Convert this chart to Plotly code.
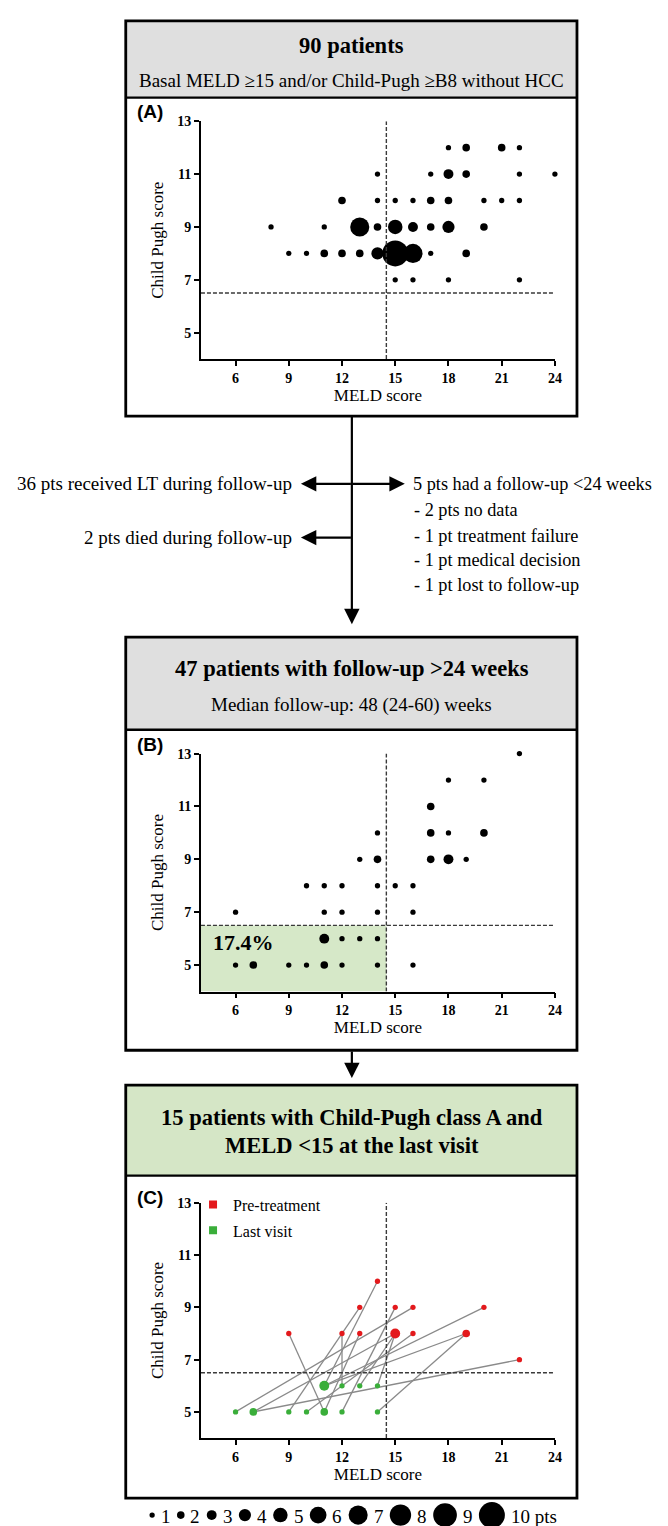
import plotly.graph_objects as go
from collections import Counter

W, H = 668, 1526

# ---------------- data ----------------
# Panel A: baseline (90 patients) -> MELD, Child-Pugh, number of patients
a_meld = [18, 19, 21, 22,
          14, 17, 18, 19, 22, 24,
          12, 14, 15, 16, 17, 18, 20, 21, 22,
          8, 11, 13, 14, 15, 16, 17, 18, 20,
          9, 10, 11, 12, 13, 14, 15, 16, 17, 19,
          15, 16, 18, 22]
a_cp = [12] * 4 + [11] * 6 + [10] * 9 + [9] * 9 + [8] * 10 + [7] * 4
a_n = [1, 2, 2, 1,
       1, 1, 3, 2, 1, 1,
       2, 1, 1, 1, 2, 2, 1, 1, 1,
       1, 1, 7, 2, 5, 3, 2, 4, 2,
       1, 1, 2, 2, 2, 4, 10, 7, 1, 2,
       1, 1, 1, 1]

# Panel B: last visit of 47 patients with follow-up >24 weeks
b_meld = [22,
          18, 20,
          17,
          14, 17, 18, 20,
          13, 14, 17, 18, 19,
          10, 11, 12, 14, 15, 16,
          6, 11, 12, 14, 16,
          11, 12, 13, 14,
          6, 7, 9, 10, 11, 12, 14, 16]
b_cp = [13] + [12] * 2 + [11] + [10] * 4 + [9] * 5 + [8] * 6 + [7] * 5 + [6] * 4 + [5] * 8
b_n = [1,
       1, 1,
       2,
       1, 2, 1, 2,
       1, 2, 2, 3, 1,
       1, 1, 1, 1, 1, 1,
       1, 1, 1, 1, 1,
       3, 1, 1, 1,
       1, 2, 1, 1, 2, 1, 1, 1]

# Panel C: 15 patients, pre-treatment -> last visit
pre_meld = [9, 16, 15, 22, 19, 19, 20, 14, 12, 13, 13, 15, 16, 15, 15]
pre_cp = [8, 9, 8, 7, 8, 8, 9, 10, 8, 9, 8, 9, 8, 8, 8]
last_meld = [11, 6, 7, 7, 14, 11, 11, 11, 12, 9, 11, 12, 10, 13, 14]
last_cp = [5, 5, 5, 5, 5, 6, 6, 6, 6, 5, 5, 5, 5, 6, 6]

x_ticks = [6, 9, 12, 15, 18, 21, 24]
y_ticks = [5, 7, 9, 11, 13]
size_legend = list(range(1, 11))

# ---------------- helpers ----------------
SERIF = "Liberation Serif"
SANS = "Liberation Sans"


def px(x):
    return x / W


def py(y):
    return 1 - y / H


def dsize(n):
    return 3 + 2.3 * n


X0, X1 = 195, 552.7
panels = {
    "A": (106.7, 345.7),
    "B": (742.0, 981.0),
    "C": (1193.3, 1429.6),
}
XR = [4.05, 24]
YR = [4, 13]
RED = "#e3191c"
GREEN = "#3aae3a"

fig = go.Figure()

# Panel A
fig.add_trace(go.Scatter(x=a_meld, y=a_cp, mode="markers", xaxis="x", yaxis="y",
                         marker=dict(color="black", opacity=1, size=[dsize(n) for n in a_n], line=dict(width=0)),
                         cliponaxis=False, showlegend=False, hoverinfo="skip"))
# Panel B
fig.add_trace(go.Scatter(x=b_meld, y=b_cp, mode="markers", xaxis="x2", yaxis="y2",
                         marker=dict(color="black", opacity=1, size=[dsize(n) for n in b_n], line=dict(width=0)),
                         cliponaxis=False, showlegend=False, hoverinfo="skip"))

# Panel C lines
lx, ly = [], []
for a, b, c, d in zip(pre_meld, pre_cp, last_meld, last_cp):
    lx += [a, c, None]
    ly += [b, d, None]
fig.add_trace(go.Scatter(x=lx, y=ly, mode="lines", xaxis="x3", yaxis="y3",
                         line=dict(color="#8a8a8a", width=1.3), showlegend=False, hoverinfo="skip"))
pre_cnt = Counter(zip(pre_meld, pre_cp))
last_cnt = Counter(zip(last_meld, last_cp))
fig.add_trace(go.Scatter(x=[k[0] for k in pre_cnt], y=[k[1] for k in pre_cnt], mode="markers",
                         xaxis="x3", yaxis="y3",
                         marker=dict(color=RED, opacity=1, size=[dsize(v) for v in pre_cnt.values()],
                                     line=dict(width=0)),
                         cliponaxis=False, showlegend=False, hoverinfo="skip"))
fig.add_trace(go.Scatter(x=[k[0] for k in last_cnt], y=[k[1] for k in last_cnt], mode="markers",
                         xaxis="x3", yaxis="y3",
                         marker=dict(color=GREEN, opacity=1, size=[dsize(v) for v in last_cnt.values()],
                                     line=dict(width=0)),
                         cliponaxis=False, showlegend=False, hoverinfo="skip"))
# legend entries for panel C
fig.add_trace(go.Scatter(x=[None], y=[None], mode="markers", xaxis="x3", yaxis="y3", name="Pre-treatment",
                         marker=dict(color=RED, symbol="square", size=8), legendgroup="a"))
fig.add_trace(go.Scatter(x=[None], y=[None], mode="markers", xaxis="x3", yaxis="y3", name="Last visit",
                         marker=dict(color=GREEN, symbol="square", size=8), legendgroup="b"))

# Size legend (bottom)
fs_leg = 19
labels = [str(n) for n in size_legend[:-1]] + ["10 pts"]
tw = [0.5 * fs_leg * len(s) if s.isdigit() else 2.42 * fs_leg for s in labels]
ds = [dsize(n) for n in size_legend]
g1, g2 = 4, 9
total = sum(ds) + sum(tw) + g1 * len(ds) + g2 * (len(ds) - 1)
cur = 347.5 - total / 2
cx, tx = [], []
for d, t in zip(ds, tw):
    cx.append(cur + d / 2)
    cur += d + g1
    tx.append(cur)
    cur += t + g2
LEG_Y = 1507
fig.add_trace(go.Scatter(x=cx, y=[0] * len(cx), mode="markers", xaxis="x4", yaxis="y4",
                         marker=dict(color="black", opacity=1, size=ds, line=dict(width=0)),
                         cliponaxis=False, showlegend=False, hoverinfo="skip"))

annotations = []
for x, s in zip(tx, labels):
    annotations.append(dict(x=px(x), y=py(LEG_Y + 1), xref="paper", yref="paper", text=s, showarrow=False,
                            xanchor="left", yanchor="middle", font=dict(family=SERIF, size=fs_leg, color="black")))

# ---------------- axes ----------------
axis_common = dict(showline=True, linecolor="black", linewidth=1.7, ticks="outside", ticklen=5,
                   tickwidth=1.7, tickcolor="black", showgrid=False, zeroline=False,
                   tickfont=dict(family=SERIF, size=14, color="black", weight="bold"))
layout_axes = {}
for i, key in enumerate(["A", "B", "C"]):
    sfx = "" if i == 0 else str(i + 1)
    top, bot = panels[key]
    layout_axes["xaxis" + sfx] = dict(axis_common, domain=[px(X0), px(X1)], range=XR, tickvals=x_ticks,
                                      anchor="y" + sfx,
                                      title=dict(text="MELD score", standoff=1,
                                                 font=dict(family=SERIF, size=17, color="black")))
    layout_axes["yaxis" + sfx] = dict(axis_common, domain=[py(bot), py(top)], range=YR, tickvals=y_ticks,
                                      anchor="x" + sfx,
                                      title=dict(text="Child Pugh score", standoff=9,
                                                 font=dict(family=SERIF, size=17, color="black")))
layout_axes["xaxis4"] = dict(domain=[0, 1], range=[0, W], visible=False, anchor="y4")
layout_axes["yaxis4"] = dict(domain=[py(LEG_Y + 15), py(LEG_Y - 15)], range=[-1, 1], visible=False, anchor="x4")

# ---------------- shapes ----------------
shapes = []
BL, BR = 119, 575


def box(top, div, bot, fill):
    shapes.append(dict(type="rect", xref="paper", yref="paper", x0=px(BL), x1=px(BR), y0=py(div), y1=py(top),
                       fillcolor=fill, line=dict(width=0), layer="below"))
    shapes.append(dict(type="line", xref="paper", yref="paper", x0=px(BL), x1=px(BR), y0=py(div), y1=py(div),
                       line=dict(color="black", width=2.4)))
    shapes.append(dict(type="rect", xref="paper", yref="paper", x0=px(BL), x1=px(BR), y0=py(bot), y1=py(top),
                       line=dict(color="black", width=2.8)))


box(6, 83, 403, "#dfdfdf")
box(625, 718, 1040, "#dfdfdf")
box(1075, 1166, 1490, "#d5e6c6")

# green region in panel B
shapes.append(dict(type="rect", xref="x2", yref="y2", x0=XR[0], x1=14.5, y0=YR[0], y1=6.5,
                   fillcolor="#d6e8c8", line=dict(width=0), layer="below"))
# threshold dashed lines
for sfx in ["", "2", "3"]:
    shapes.append(dict(type="line", xref="x" + sfx, yref="y" + sfx, x0=14.5, x1=14.5, y0=YR[0], y1=13,
                       line=dict(color="#3a3a3a", width=1.4, dash="4px,2px")))
    shapes.append(dict(type="line", xref="x" + sfx, yref="y" + sfx, x0=XR[0], x1=24, y0=6.5, y1=6.5,
                       line=dict(color="#3a3a3a", width=1.4, dash="4px,2px")))


# ---------------- annotations ----------------
def txt(x, y, s, size, bold=False, anchor="center", family=SERIF):
    annotations.append(dict(x=px(x), y=py(y), xref="paper", yref="paper", text=s, showarrow=False,
                            xanchor=anchor, yanchor="middle",
                            font=dict(family=family, size=size, color="black",
                                      weight="bold" if bold else "normal")))


CX = 347.5
txt(CX, 31, "90 patients", 22.5, bold=True)
txt(CX, 66, "Basal MELD ≥15 and/or Child-Pugh ≥B8 without HCC", 19)
txt(CX, 657, "47 patients with follow-up &gt;24 weeks", 22.5, bold=True)
txt(CX, 693, "Median follow-up: 48 (24-60) weeks", 19)
txt(CX, 1108, "15 patients with Child-Pugh class A and", 22.5, bold=True)
txt(CX, 1136, "MELD &lt;15 at the last visit", 22.5, bold=True)

txt(143, 97, "(A)", 19, bold=True, family=SANS)
txt(143, 733, "(B)", 19, bold=True, family=SANS)
txt(143, 1188, "(C)", 19, bold=True, family=SANS)

txt(205, 932, "17.4%", 22, bold=True, anchor="left")

FL = 19
FR = 18.3
txt(289, 471, "36 pts received LT during follow-up", FL, anchor="right")
txt(289, 525, "2 pts died during follow-up", FL, anchor="right")
txt(407, 471, "5 pts had a follow-up &lt;24 weeks", FR, anchor="left")
txt(408, 497, "- 2 pts no data", FR, anchor="left")
txt(408, 523, "- 1 pt treatment failure", FR, anchor="left")
txt(408, 548, "- 1 pt medical decision", FR, anchor="left")
txt(408, 573, "- 1 pt lost to follow-up", FR, anchor="left")


def arrow(x_tip, y_tip, x_tail, y_tail):
    annotations.append(dict(x=px(x_tip), y=py(y_tip), xref="paper", yref="paper", text="",
                            showarrow=True, ax=x_tail - x_tip, ay=y_tail - y_tip, axref="pixel", ayref="pixel",
                            arrowhead=2, arrowsize=1.4, arrowwidth=2.2, arrowcolor="black", standoff=0,
                            startstandoff=0))


arrow(CX, 612, CX, 403)
arrow(296, 471, CX, 471)
arrow(401, 471, CX, 471)
arrow(296, 525, CX, 525)
arrow(CX, 1068, CX, 1040)

fig.update_layout(
    width=W, height=H, margin=dict(l=0, r=0, t=0, b=0),
    paper_bgcolor="white", plot_bgcolor="rgba(0,0,0,0)",
    shapes=shapes, annotations=annotations,
    legend=dict(x=px(187), y=py(1178), xanchor="left", yanchor="top", bgcolor="rgba(0,0,0,0)",
                font=dict(family=SERIF, size=16, color="black"), traceorder="grouped", tracegroupgap=2,
                itemwidth=30),
    **layout_axes,
)

fig.write_html("out.html")
